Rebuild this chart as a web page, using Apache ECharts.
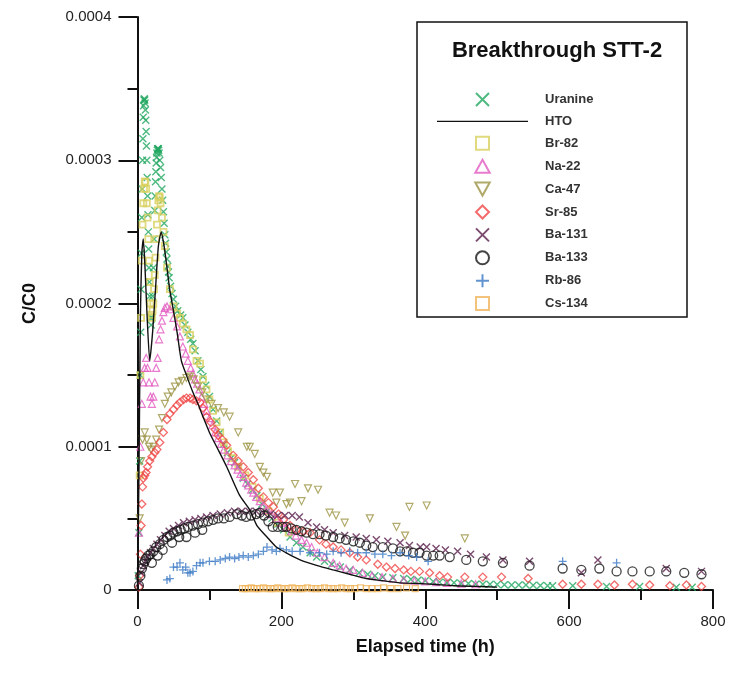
<!DOCTYPE html>
<html>
<head>
<meta charset="utf-8">
<script src="https://cdn.jsdelivr.net/npm/echarts@6/dist/echarts.min.js"></script>
<style>html,body{margin:0;padding:0;background:#fff}#c{width:731px;height:677px}</style>
</head>
<body>
<div id="c"></div>
<script>
// values in units of 1e-4 (C/C0), time in hours
const xTicks = [0, 200, 400, 600, 800];
const yTickLabels = ['0', '0.0001', '0.0002', '0.0003', '0.0004'];

const uranine = [[1,0.1],[2,0.4],[3,0.9],[4,1.5],[4.5,1.8],[5,2.1],[5.5,2.35],[6,2.6],[6.5,2.8],[7,3.0],[7.5,3.15],[8,3.3],[8.5,3.38],[9,3.42],[9.5,3.43],[10,3.42],[10.5,3.4],[11,3.35],[11.5,3.28],[12,3.2],[12.5,3.1],[13,3.0],[13.5,2.88],[14,2.75],[14.5,2.62],[15,2.5],[15.5,2.38],[16,2.25],[16.5,2.15],[17,2.05],[18,1.9],[19,1.85],[20,1.9],[21,2.05],[22,2.25],[23,2.45],[24,2.65],[24.5,2.75],[25,2.85],[25.5,2.92],[26,2.98],[26.5,3.02],[27,3.05],[27.5,3.07],[28,3.08],[28.5,3.08],[29,3.08],[29.5,3.07],[30,3.05],[31,3.0],[32,2.95],[33,2.88],[34,2.8],[35,2.72],[36,2.64],[37,2.56],[38,2.48],[39,2.42],[40,2.36],[41,2.31],[42,2.26],[43,2.22],[44,2.18],[46,2.12],[48,2.07],[50,2.03],[53,1.98],[56,1.95],[60,1.92],[63,1.9],[66,1.85],[70,1.8],[74,1.75],[77,1.72],[80,1.67],[84,1.6],[88,1.54],[91,1.49],[95,1.43],[100,1.35],[105,1.26],[110,1.18],[115,1.1],[120,1.02],[125,0.96],[130,0.92],[135,0.89],[140,0.86],[147,0.78],[153,0.74],[160,0.7],[166,0.66],[173,0.6],[180,0.55],[187,0.5],[195,0.46],[203,0.42],[212,0.37],[221,0.33],[230,0.3],[240,0.26],[249,0.23],[260,0.2],[270,0.18],[282,0.16],[295,0.14],[308,0.12],[320,0.11],[330,0.1],[341,0.09],[355,0.085],[370,0.08],[380,0.075],[390,0.07],[400,0.065],[411,0.06],[420,0.055],[430,0.05],[440,0.05],[450,0.045],[460,0.045],[470,0.04],[480,0.04],[490,0.04],[500,0.038],[510,0.036],[520,0.035],[530,0.035],[540,0.035],[550,0.033],[560,0.032],[570,0.03],[577,0.03],[605,0.03],[652,0.025],[698,0.025],[749,0.02],[771,0.02]];

const hto = [[0,0],[2,0.8],[4,1.9],[6,2.35],[8,2.45],[10,2.3],[13,1.95],[17,1.6],[21,1.8],[25,2.1],[29,2.4],[33,2.5],[37,2.4],[41,2.25],[45,2.09],[50,1.95],[55,1.8],[61,1.6],[68,1.5],[77,1.38],[84,1.3],[91,1.21],[100,1.1],[110,1.0],[124,0.86],[142,0.66],[156,0.56],[166,0.45],[180,0.37],[193,0.3],[210,0.25],[226,0.21],[250,0.17],[272,0.14],[295,0.11],[318,0.08],[340,0.065],[365,0.05],[390,0.045],[411,0.04],[440,0.03],[470,0.025],[500,0.02]];

const br82 = [[3,0.8],[4,1.5],[5,1.9],[6,2.3],[7,2.55],[8,2.7],[9,2.8],[10,2.85],[11,2.85],[12,2.8],[13,2.7],[14,2.6],[15,2.45],[16,2.3],[17,2.15],[18,2.0],[19,1.92],[20,1.9],[21,1.95],[22,2.0],[23,2.1],[24,2.2],[25,2.32],[26,2.45],[27,2.55],[28,2.65],[29,2.72],[30,2.75],[31,2.74],[32,2.7],[34,2.6],[36,2.5],[38,2.4],[41,2.25],[45,2.1],[50,1.98],[55,1.93],[59,1.9],[63,1.86],[68,1.82],[73,1.78],[77,1.68],[82,1.6],[87,1.58],[91,1.47],[96,1.4],[100,1.33],[105,1.25],[110,1.17],[115,1.1],[120,1.03],[126,0.97],[132,0.92],[140,0.86],[150,0.8],[160,0.72],[170,0.64],[182,0.55],[195,0.47],[210,0.4]];

const na22 = [[2,0.4],[4,1.0],[6,1.3],[8,1.45],[10,1.55],[12,1.62],[14,1.55],[16,1.45],[18,1.35],[20,1.3],[22,1.35],[24,1.45],[26,1.55],[28,1.62],[30,1.75],[32,1.82],[34,1.88],[36,1.94],[38,1.97],[41,1.98],[45,1.96],[50,1.9],[55,1.84],[59,1.77],[63,1.7],[67,1.65],[70,1.6],[74,1.55],[77,1.51],[80,1.47],[83,1.44],[86,1.4],[89,1.35],[93,1.3],[96,1.25],[100,1.2],[104,1.15],[108,1.1],[112,1.06],[116,1.02],[120,0.98],[125,0.94],[130,0.9],[135,0.87],[139,0.84],[143,0.81],[147,0.79],[151,0.75],[154,0.73],[158,0.7],[161,0.68],[165,0.65],[170,0.62],[175,0.59],[180,0.56],[186,0.53],[193,0.5],[200,0.47],[207,0.44],[214,0.41],[220,0.38],[228,0.35],[235,0.33],[242,0.3],[250,0.26],[260,0.23],[272,0.19],[281,0.17],[290,0.15],[300,0.14],[313,0.12],[326,0.1],[340,0.09],[355,0.08],[370,0.07],[385,0.065],[400,0.06],[415,0.055],[430,0.05],[450,0.045],[470,0.04]];

const ca47 = [[3,0.5],[5,0.9],[7,1.05],[10,1.1],[13,1.05],[16,1.0],[19,0.98],[22,1.0],[26,1.05],[30,1.12],[34,1.2],[38,1.3],[42,1.35],[47,1.38],[52,1.42],[57,1.45],[62,1.46],[68,1.48],[73,1.49],[78,1.47],[84,1.42],[90,1.38],[96,1.33],[103,1.3],[112,1.27],[120,1.24],[128,1.21],[140,1.1],[152,1.0],[156,1.0],[163,0.95],[170,0.86],[175,0.82],[180,0.79],[188,0.68],[193,0.61],[198,0.68],[207,0.6],[212,0.61],[219,0.74],[228,0.62],[237,0.71],[251,0.7],[267,0.54],[276,0.52],[288,0.47],[323,0.5],[360,0.44],[372,0.38],[378,0.58],[402,0.59],[455,0.36]];

const sr85 = [[2,0.02],[3,0.1],[4,0.25],[5,0.45],[6,0.6],[7,0.72],[8,0.78],[10,0.8],[12,0.82],[14,0.86],[17,0.9],[20,0.93],[24,0.96],[27,0.98],[31,1.03],[36,1.1],[41,1.19],[45,1.23],[50,1.26],[55,1.29],[59,1.31],[64,1.33],[68,1.34],[73,1.34],[77,1.33],[82,1.32],[87,1.31],[91,1.27],[96,1.21],[102,1.17],[108,1.12],[112,1.08],[118,1.05],[124,1.01],[133,0.94],[140,0.9],[147,0.86],[154,0.82],[161,0.77],[168,0.71],[175,0.65],[182,0.61],[189,0.58],[196,0.53],[203,0.49],[212,0.45],[221,0.42],[230,0.41],[240,0.4],[253,0.35],[262,0.32],[272,0.3],[283,0.28],[295,0.26],[306,0.23],[318,0.21],[334,0.18],[346,0.16],[358,0.15],[370,0.14],[380,0.13],[392,0.13],[406,0.12],[420,0.1],[431,0.09],[455,0.09],[480,0.09],[506,0.09],[543,0.08],[591,0.04],[617,0.04],[640,0.04],[663,0.035],[688,0.04],[712,0.035],[740,0.03],[763,0.035],[784,0.025]];

const ba131 = [[3,0.05],[5,0.12],[8,0.17],[11,0.2],[14,0.23],[18,0.26],[22,0.29],[27,0.32],[32,0.35],[38,0.38],[44,0.41],[50,0.43],[57,0.45],[64,0.47],[72,0.48],[80,0.49],[88,0.5],[96,0.51],[105,0.52],[115,0.53],[125,0.54],[135,0.55],[145,0.55],[155,0.55],[165,0.55],[175,0.54],[185,0.53],[195,0.52],[205,0.52],[215,0.52],[225,0.51],[237,0.47],[249,0.44],[260,0.42],[272,0.4],[288,0.38],[304,0.37],[318,0.36],[332,0.35],[348,0.34],[365,0.33],[378,0.31],[393,0.3],[402,0.3],[415,0.29],[428,0.28],[445,0.27],[463,0.25],[485,0.23],[508,0.21],[545,0.2],[617,0.12],[640,0.21],[735,0.15],[784,0.13]];

const ba133 = [[2,0.03],[4,0.1],[6,0.15],[8,0.18],[10,0.2],[12,0.22],[15,0.24],[18,0.25],[20,0.19],[22,0.27],[26,0.3],[28,0.24],[31,0.32],[35,0.28],[36,0.35],[41,0.37],[45,0.38],[48,0.33],[50,0.4],[55,0.41],[58,0.37],[60,0.42],[65,0.43],[68,0.37],[70,0.44],[77,0.45],[80,0.4],[84,0.46],[90,0.42],[91,0.47],[98,0.48],[105,0.49],[112,0.5],[120,0.5],[128,0.51],[138,0.53],[145,0.52],[151,0.51],[158,0.52],[165,0.53],[170,0.54],[176,0.52],[182,0.48],[188,0.44],[195,0.44],[202,0.44],[207,0.44],[214,0.43],[221,0.42],[228,0.41],[235,0.4],[244,0.39],[253,0.39],[262,0.38],[272,0.37],[281,0.36],[290,0.35],[300,0.34],[309,0.33],[318,0.31],[327,0.3],[341,0.3],[355,0.29],[365,0.27],[374,0.27],[383,0.26],[392,0.26],[402,0.24],[411,0.24],[420,0.24],[434,0.23],[457,0.21],[480,0.2],[508,0.19],[545,0.17],[591,0.15],[617,0.14],[642,0.15],[666,0.13],[688,0.13],[712,0.13],[735,0.13],[760,0.12],[784,0.11]];

const rb86 = [[41,0.07],[45,0.08],[50,0.16],[55,0.16],[59,0.19],[63,0.14],[67,0.16],[70,0.12],[73,0.12],[77,0.13],[82,0.17],[87,0.19],[91,0.19],[100,0.2],[108,0.2],[115,0.21],[122,0.22],[128,0.23],[135,0.22],[141,0.23],[147,0.24],[154,0.23],[161,0.24],[168,0.25],[175,0.27],[180,0.3],[187,0.28],[193,0.27],[198,0.29],[207,0.28],[215,0.27],[226,0.27],[240,0.26],[253,0.26],[263,0.25],[272,0.27],[283,0.26],[295,0.27],[306,0.26],[318,0.26],[330,0.25],[341,0.25],[353,0.24],[365,0.26],[377,0.24],[388,0.23],[404,0.2],[591,0.2],[666,0.19]];

const cs134 = [[146,0.01],[150,0.01],[154,0.01],[158,0.015],[162,0.01],[166,0.01],[170,0.01],[175,0.015],[180,0.01],[185,0.01],[190,0.01],[195,0.015],[200,0.01],[205,0.01],[210,0.01],[215,0.015],[220,0.01],[225,0.01],[230,0.01],[236,0.015],[242,0.01],[248,0.01],[254,0.01],[260,0.015],[266,0.01],[272,0.01],[278,0.01],[284,0.015],[290,0.01],[296,0.01],[302,0.01],[310,0.015],[318,0.01],[326,0.01],[334,0.01],[342,0.015],[352,0.01],[362,0.01],[374,0.015],[386,0.01]];

const SYM = {
  cross: 'path://M0,0L10,10M10,0L0,10',
  plus: 'path://M5,0L5,10M0,5L10,5',
  tri: 'path://M5,0L10,9L0,9Z',
  invTri: 'path://M0,0L10,0L5,9Z',
  diamond: 'path://M5,0L10,5L5,10L0,5Z',
  square: 'path://M0,0L10,0L10,10L0,10Z',
  circle: 'path://M5,0A5,5,0,1,1,5,10A5,5,0,1,1,5,0Z',
  line: 'path://M0,0L100,0L100,1.5L0,1.5Z'
};

function scatter(name, data, symbol, color, size, bw) {
  return {
    name, type: 'scatter', data, symbol, symbolSize: size,
    itemStyle: { color: 'rgba(255,255,255,0)', borderColor: color, borderWidth: bw || 1.2 },
    emphasis: { disabled: true }, z: 3
  };
}

const FONT = 'Arial, Liberation Sans, Helvetica, sans-serif';
const chart = echarts.init(document.getElementById('c'), null, { renderer: 'canvas' });
chart.setOption({
  animation: false,
  backgroundColor: '#fff',
  textStyle: { fontFamily: FONT },
  grid: { left: 137.5, right: 18, top: 17, bottom: 87, containLabel: false },
  title: {
    text: 'Breakthrough STT-2', left: 552, top: 35, textAlign: 'center',
    textStyle: { fontSize: 22, fontWeight: 'bold', color: '#111', fontFamily: FONT }
  },
  graphic: [{
    type: 'rect', z: 1,
    shape: { x: 417, y: 22, width: 270, height: 295 },
    style: { fill: '#fff', stroke: '#111', lineWidth: 1.5 }
  }],
  legend: {
    orient: 'vertical', left: 437, top: 92, itemWidth: 91, itemHeight: 13, itemGap: 7.9,
    padding: 0, z: 5,
    selectedMode: false,
    textStyle: { fontSize: 13, fontWeight: 'bold', color: '#333', lineHeight: 13, padding: [0, 0, 0, 12], fontFamily: FONT },
    data: ['Uranine', { name: 'HTO', icon: SYM.line }, 'Br-82', 'Na-22', 'Ca-47', 'Sr-85', 'Ba-131', 'Ba-133', 'Rb-86', 'Cs-134']
  },
  xAxis: {
    type: 'value', min: 0, max: 800, interval: 200,
    name: 'Elapsed time (h)', nameLocation: 'middle', nameGap: 48,
    nameTextStyle: { fontSize: 18, fontWeight: 'bold', color: '#111' },
    axisLine: { lineStyle: { color: '#111', width: 2 } },
    axisTick: { length: 19, lineStyle: { color: '#111', width: 2 } },
    minorTick: { show: true, splitNumber: 2, length: 10, lineStyle: { color: '#111', width: 2 } },
    splitLine: { show: false },
    axisLabel: { fontSize: 15, color: '#222', margin: 24,
      formatter: v => xTicks.indexOf(v) >= 0 ? String(v) : '' }
  },
  yAxis: {
    type: 'value', min: 0, max: 4, interval: 1,
    name: 'C/C0', nameLocation: 'middle', nameGap: 98, nameRotate: 90,
    nameTextStyle: { fontSize: 18, fontWeight: 'bold', color: '#111' },
    axisLine: { show: true, lineStyle: { color: '#111', width: 2 } },
    axisTick: { show: true, length: 19, lineStyle: { color: '#111', width: 2 } },
    minorTick: { show: true, splitNumber: 2, length: 10, lineStyle: { color: '#111', width: 2 } },
    splitLine: { show: false },
    axisLabel: { fontSize: 15, color: '#222', margin: 26,
      formatter: v => yTickLabels[Math.round(v)] }
  },
  series: [
    scatter('Uranine', uranine, SYM.cross, '#22a860', 7, 1.4),
    { name: 'HTO', type: 'line', data: hto, symbol: 'none', smooth: 0.2,
      lineStyle: { color: '#111', width: 1.4 }, itemStyle: { color: '#111' }, z: 4, emphasis: { disabled: true } },
    scatter('Br-82', br82, SYM.square, '#d8cf5e', 6, 1.8),
    scatter('Na-22', na22, SYM.tri, '#e25ac0', 7, 1.2),
    scatter('Ca-47', ca47, SYM.invTri, '#9c9444', 7, 1.2),
    scatter('Sr-85', sr85, SYM.diamond, '#f04646', 8, 1.3),
    scatter('Ba-131', ba131, SYM.cross, '#5a1f4c', 7, 1.4),
    scatter('Ba-133', ba133, SYM.circle, '#151515', 9, 1.3),
    scatter('Rb-86', rb86, SYM.plus, '#3a78c4', 8, 1.3),
    scatter('Cs-134', cs134, SYM.square, '#f0b45a', 6, 1.2)
  ]
});
</script>
</body>
</html>
